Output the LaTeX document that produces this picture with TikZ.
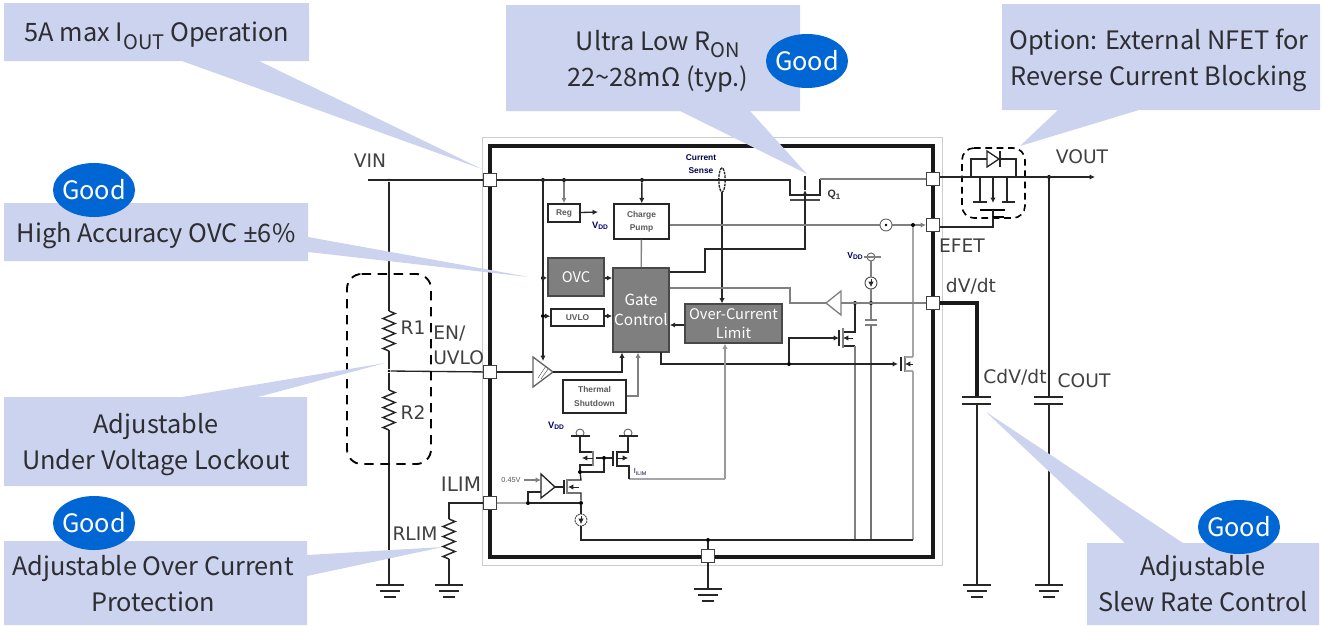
\documentclass[tikz,border=0pt]{standalone}
\usepackage{fontspec}
\setmainfont{Noto Sans CJK JP}
\newfontfamily\latinfont{Noto Sans}
\newfontfamily\schfont{DejaVu Sans}
\newfontfamily\tagfont{Liberation Sans}
\usetikzlibrary{arrows.meta,decorations.pathmorphing,shapes.geometric}
\definecolor{callblue}{RGB}{203,211,238}
\definecolor{goodblue}{RGB}{0,102,212}
\definecolor{blockgray}{RGB}{127,127,127}
\definecolor{blockedge}{RGB}{72,72,72}
\definecolor{calltext}{RGB}{45,45,50}
\tikzset{
  callfill/.style={fill=callblue,draw=none},
  calllabel/.style={inner sep=0pt,align=center,text=calltext,font=\fontsize{19}{27}\selectfont},
  goodoval/.style={ellipse,fill=goodblue,text=white,inner xsep=-3pt,inner ysep=0pt,minimum width=61.5pt,minimum height=40.5pt,font=\fontsize{19}{19}\selectfont},
  wire/.style={line width=1pt,color=black!85},
  railwire/.style={line width=1.4pt,color=black!85},
  graywire/.style={line width=1pt,color=black!50},
  palewire/.style={line width=1.1pt,color=black!35},
  tipwire/.style={-{Latex[length=4pt,width=4pt]}},
  pad/.style={draw=black!75,fill=white,line width=1pt,minimum size=9.5pt,inner sep=0pt},
  jdot/.style={circle,fill=black,inner sep=0pt,minimum size=3pt},
  whiteblock/.style={draw=black!85,fill=white,line width=1.3pt,inner sep=0pt,align=center,font=\tagfont\bfseries\fontsize{6.3}{10}\selectfont,text=black!65},
  grayblock/.style={draw=blockedge,fill=blockgray,line width=1.3pt,inner sep=0pt,align=center,text=white},
  schlabel/.style={inner sep=0pt,font=\schfont\fontsize{14}{17}\selectfont,text=black!75},
  smalltag/.style={inner sep=0pt,align=center,font=\tagfont\fontsize{5.5}{8}\selectfont,text=black!65},
  srcring/.style={circle,draw=black!70,fill=white,line width=0.7pt,minimum size=9pt,inner sep=0pt},
  railring/.style={circle,draw=black!60,line width=0.7pt,minimum size=6pt,inner sep=0pt},
  resistor/.style={line width=1.1pt,color=black!85,decorate,decoration={zigzag,segment length=7.5pt,amplitude=4.5pt}},
  dashbox/.style={dash pattern=on 7pt off 5pt,line width=1.4pt,rounded corners=11pt}
}
\begin{document}
\begin{tikzpicture}[x=0.75pt,y=0.75pt,yscale=-1]
\useasboundingbox (0,0) rectangle (1324,625);

%Shape: Rectangle frame
\draw [color=black!20,line width=0.5pt] (482,137) -- (942,137) -- (942,565) -- (482,565) -- cycle ;
%Shape: Rectangle thick
\draw [line width=2.8pt,color=black!90] (490,146) -- (933,146) -- (933,557) -- (490,557) -- cycle ;

% Pads
\draw (490,180) node [pad] (padvin) {};
\draw (933,179) node [pad] (padout) {};
\draw (933,225) node [pad] (padefet) {};
\draw (933,303) node [pad] (paddvdt) {};
\draw (490,372) node [pad] (paduvlo) {};
\draw (490,503) node [pad] (padilim) {};
\draw (708,556) node [pad] (padgnd) {};

% Blocks
\draw (564,213) node [whiteblock,minimum width=24pt,minimum height=13.5pt] (regblk) {Reg};
\draw (641.5,221.5) node [whiteblock,minimum width=41pt,minimum height=26pt] (pumpblk) {Charge\\Pump};
\draw (576,277) node [grayblock,minimum width=42pt,minimum height=29pt,font=\fontsize{11}{13}\selectfont] (ovcblk) {OVC};
\draw (577.5,317.5) node [whiteblock,minimum width=39.5pt,minimum height=12.5pt] (uvloblk) {UVLO};
\draw (641,310) node [grayblock,minimum width=42pt,minimum height=63pt,font=\fontsize{11.5}{15}\selectfont] (gateblk) {Gate\\Control};
\draw (733.5,323.5) node [grayblock,minimum width=73pt,minimum height=29pt,font=\fontsize{11}{14}\selectfont] (oclblk) {Over-Current\\Limit};
\draw (594.5,396.5) node [whiteblock,minimum width=47pt,minimum height=25pt] (thermblk) {Thermal\\Shutdown};

% Junctions
\draw (389,180) node [jdot,minimum size=2pt] (jvin) {};
\draw (389,371) node [jdot,minimum size=2pt] (jdiv) {};
\draw (543,180) node [jdot] (jreg) {};
\draw (564,180) node [jdot] (jregb) {};
\draw (642,180) node [jdot] (jpump) {};
\draw (543,278) node [jdot] (jovc) {};
\draw (543,316) node [jdot] (juvlo) {};
\draw (855,303) node [jdot] (jclamp) {};
\draw (871,303) node [jdot] (jcap) {};
\draw (789,364) node [jdot] (jgate) {};
\draw (708,540) node [jdot] (jgnd) {};
\draw (581,503) node [jdot] (jsense) {};
\draw (528,503) node [jdot] (jamp) {};
\draw (580,472) node [jdot] (jmirror) {};
\draw (604,458) node [jdot] (jmgate) {};
\draw (1049,177) node [jdot] (jout) {};

% Outside wiring
\draw [railwire] (368,180) -- (padvin) ;
\draw [railwire] (jvin) -- (389,311) ;
\draw [resistor] (389,311) -- (389,351) ;
\draw [railwire] (389,351) -- (jdiv) -- (389,390) ;
\draw [resistor] (389,390) -- (389,430) ;
\draw [railwire] (389,430) -- (389,585) ;
\draw [wire] (jdiv) -- (paduvlo) ;
\draw [railwire] (padilim) -- (449,503) -- (449,519) ;
\draw [resistor] (449,519) -- (449,559) ;
\draw [railwire] (449,559) -- (449,585) ;
\draw [railwire] (padgnd) -- (708,589) ;

%Shape: Grounds
\draw [railwire] (376,585) -- (404,585) (380,591) -- (400,591) (384,597) -- (396,597) ;
\draw [railwire] (435,585) -- (463,585) (439,591) -- (459,591) (443,597) -- (455,597) ;
\draw [railwire] (694,589) -- (722,589) (698,595) -- (718,595) (702,601) -- (714,601) ;
\draw [railwire] (963,585) -- (991,585) (967,591) -- (987,591) (971,597) -- (983,597) ;
\draw [railwire] (1035,585) -- (1063,585) (1039,591) -- (1059,591) (1043,597) -- (1055,597) ;

%Dashed boxes
\draw [dashbox] (347,274) -- (431,274) -- (431,464) -- (347,464) -- cycle ;
\draw [dashbox,rounded corners=9pt,dash pattern=on 5pt off 3.5pt,line width=1.2pt] (962,148) -- (1025,148) -- (1025,218) -- (962,218) -- cycle ;

% External FET
\draw [railwire,tipwire] (padout.east |- 0,177) -- (1095,177) ;
\draw [wire] (971,177) -- (971,159) -- (987,159) (999,159) -- (1016,159) -- (1016,177) ;
\draw [wire,fill=white] (987,151) -- (987,167) -- (999,159) -- cycle ;
\draw [wire] (1000,151) -- (1000,167) ;
\draw [wire] (980,177) -- (980,202) (973,202) -- (987,202) ;
\draw [wire] (1007,177) -- (1007,202) (1002,202) -- (1015,202) ;
\draw [wire,tipwire] (993,177) -- (993,203) ;
\draw [line width=1.4pt] (980,210) -- (1005,210) ;
\draw [wire] (993,210) -- (993,227) -- (padefet.east |- 0,227) ;
\draw [line width=1pt] (993,217) -- (1004,217) ;

% Output capacitors
\draw [railwire] (jout) -- (1049,397) ;
\draw [railwire] (1034,397) -- (1063,397) (1034,404) -- (1063,404) ;
\draw [railwire] (1049,404) -- (1049,585) ;
\draw [line width=2.5pt,color=black!90] (paddvdt) -- (977,303) -- (977,397) ;
\draw [railwire] (962,397) -- (991,397) (962,404) -- (991,404) ;
\draw [railwire] (977,404) -- (977,585) ;

% Input rail and Q1
\draw [wire] (padvin) -- (790,180) -- (790,195) -- (820,195) -- (820,179) ;
\draw [graywire] (820,179) -- (padout) ;
\draw [railwire,color=black!70] (790,200) -- (820,200) ;
\draw [wire,tipwire] (805,200) -- (805,190) ;
\draw [wire] (805,176) -- (805,190) ;
\draw [wire] (805,200) -- (805,249) -- (705,249) -- (705,272) -- (gateblk.east |- 705,272) ;
\draw [wire,dash pattern=on 2pt off 0.7pt] (722,180) ellipse (3.2 and 12) ;
\draw [wire,tipwire] (722,192) -- (722,303.5) ;
\draw [wire] (jreg) -- (543,278) ;
\draw [wire,tipwire] (jovc) -- (ovcblk) ;
\draw [wire] (jovc) -- (juvlo) ;
\draw [wire,tipwire] (juvlo) -- (uvloblk) ;
\draw [wire,tipwire] (juvlo) -- (543,361) ;
\draw [wire,tipwire,color=black!50] (jregb) -- (regblk) ;
\draw [wire,tipwire] (regblk) -- (598,212) ;
\draw [wire,tipwire,line width=1.1pt] (jpump) -- (pumpblk) ;
\draw [graywire] (pumpblk) -- (gateblk) ;
\draw [wire,tipwire] (ovcblk.east |- 0,278) -- (gateblk.west |- 0,278) ;
\draw [wire,tipwire] (uvloblk.east |- 0,316) -- (gateblk.west |- 0,316) ;
\draw [wire,tipwire] (oclblk.west |- 0,325) -- (gateblk.east |- 0,325) ;

% Charge pump to EFET
\draw [graywire,tipwire] (pumpblk.east |- 0,225) -- (padefet) ;
\draw (886,225) node [srcring,draw=black!60] (srcefet) {};
\draw (886,225) node [jdot,minimum size=2pt] (srcefetdot) {};
\draw (913,225) node [jdot] (jefet) {};
\draw [palewire] (jefet) -- (913,357) ;
\draw [palewire] (913,371) -- (913,540) ;

% Comparator on dV/dt
\draw [graywire] (gateblk.east |- 0,288) -- (790,288) -- (790,303) -- (826,303) ;
\draw [graywire,fill=white] (826,303) -- (841,291) -- (841,315) -- cycle ;
\draw [graywire] (841,303) -- (paddvdt) ;
\draw [wire] (jclamp) -- (855,332) -- (843,332) (843,346) -- (855,346) ;
\draw [graywire,line width=1.2pt] (843,328) -- (843,348) ;
\draw [wire] (839,330) -- (839,346) ;
\draw [graywire] (855,346) -- (855,540) ;
\draw [wire,tipwire] (jgate) -- (789,338) -- (839,338) ;
\draw [wire,tipwire,line width=0.6pt] (853,338) -- (843,338) ;

% VDD and soft start cap
\draw (855,256) node [smalltag,text=blue!40!black,font=\tagfont\bfseries\fontsize{6.5}{8}\selectfont] (vddclamp) {V\raisebox{-1pt}{\fontsize{5}{6}\selectfont DD}};
\draw (871,257) node [railring] (vddring) {};
\draw [wire,color=black!50] (864,257) -- (881,257) ;
\draw (871,283) node [srcring] (srccap) {};
\draw [wire,tipwire,line width=0.5pt] (871,279) -- (871,287) ;
\draw [graywire] (vddring) -- (srccap) ;
\draw [graywire] (srccap) -- (jcap) ;
\draw [graywire] (jcap) -- (871,320) ;
\draw [graywire] (865,320) -- (877,320) (865,325) -- (877,325) ;
\draw [line width=1.3pt,color=black!55] (871,325) -- (871,540) ;

% Gate drive line
\draw [wire] (661,352) -- (661,364) -- (jgate) ;
\draw [wire,tipwire] (jgate) -- (898,364) ;
\draw [graywire] (905,356) -- (905,372) ;
\draw [wire] (901,357) -- (901,371) ;
\draw [palewire] (905,357) -- (913,357) (905,371) -- (913,371) ;
\draw [wire,tipwire,line width=0.6pt] (913,364) -- (905,364) ;

% EN comparator
\draw [wire] (paduvlo) -- (533,372) ;
\draw [wire,color=black!60,fill=white] (533,357) -- (533,387) -- (553,372) -- cycle ;
\draw [line width=0.4pt,color=black!60] (538,378) -- (546,366) (541,379) -- (548,369) ;
\draw [wire,tipwire] (553,372) -- (622,372) -- (622,352.5) ;
\draw [graywire,tipwire] (thermblk.east |- 0,396) -- (638,396) -- (638,352.5) ;

% Over current sense
\draw [palewire] (725,479) -- (629,479) ;
\draw [palewire,tipwire,color=black!40] (725,479) -- (725,343.5) ;
\draw [wire] (629,479) -- (629,466) -- (617,466) (617,452) -- (628,452) -- (628,436) ;
\draw [wire] (617,451) -- (617,467) ;
\draw [wire] (613,451) -- (613,466) ;
\draw [wire,tipwire,line width=0.6pt] (617,458) -- (628,458) ;
\draw (628,433) node [railring] (vddright) {};
\draw [wire] (619,436) -- (638,436) ;
\draw (580,433) node [railring] (vddleft) {};
\draw [wire] (571,436) -- (590,436) ;
\draw [wire] (580,436) -- (580,452) -- (593,452) (593,465) -- (580,465) -- (jmirror) ;
\draw [graywire] (593,451) -- (593,466) ;
\draw [wire,tipwire,line width=0.6pt] (593,458) -- (582,458) ;
\draw [wire] (596,458) -- (jmgate) -- (613,458) ;
\draw [wire] (jmgate) -- (604,472) -- (jmirror) ;
\draw [wire] (jmirror) -- (581,480) -- (567,480) (567,493) -- (581,493) -- (jsense) ;
\draw [graywire] (567,479) -- (567,494) ;
\draw [wire] (564,480) -- (564,494) ;
\draw [wire,tipwire,line width=0.6pt] (579,487) -- (568,487) ;
\draw [wire,fill=white] (541,474) -- (541,498) -- (555,487) -- cycle ;
\draw [wire] (555,487) -- (564,487) ;
\draw [wire,tipwire,color=black!50] (524,480) -- (541,480) ;
\draw [palewire] (padilim) -- (jamp) ;
\draw [wire] (jamp) -- (jsense) ;
\draw [wire] (jamp) -- (528,492) -- (541,492) ;
\draw (581,520) node [srcring,dash pattern=on 1.5pt off 0.5pt] (srcilim) {};
\draw [wire,tipwire,line width=0.5pt] (581,516) -- (581,524) ;
\draw [wire] (jsense) -- (srcilim) ;
\draw [wire] (srcilim) -- (581,540) -- (jgnd) ;
\draw [wire] (jgnd) -- (padgnd) ;
\draw [wire] (jgnd) -- (913,540) ;

% Text Node
\draw (370,161) node [schlabel] (vinlabel) {VIN};
\draw (433,345.5) node [schlabel,anchor=west,align=left,font=\schfont\fontsize{14}{18.5}\selectfont] (uvlolabel) {EN/\\UVLO};
\draw (413,328) node [schlabel] (rlabela) {R1};
\draw (413,413) node [schlabel] (rlabelb) {R2};
\draw (461,484) node [schlabel,font=\schfont\fontsize{15}{17}\selectfont] (ilimlabel) {ILIM};
\draw (415,534) node [schlabel] (rlimlabel) {RLIM};
\draw (962,246) node [schlabel] (efetlabel) {EFET};
\draw (971,286) node [schlabel] (dvdtlabel) {dV/dt};
\draw (1082,157) node [schlabel] (voutlabel) {VOUT};
\draw (1015,377) node [schlabel] (cdvlabel) {CdV/dt};
\draw (1084,381) node [schlabel] (coutlabel) {COUT};
\draw (834,195) node [smalltag,font=\tagfont\bfseries\fontsize{8}{8}\selectfont,text=black!80] (qlabel) {Q\raisebox{-1pt}{\fontsize{6}{6}\selectfont 1}};
\draw (701,164) node [smalltag,text=blue!30!black,font=\tagfont\bfseries\fontsize{6.3}{9.5}\selectfont] (senselabel) {Current\\Sense};
\draw (600,226) node [smalltag,text=blue!40!black,font=\tagfont\bfseries\fontsize{7}{8}\selectfont] (vddreg) {V\raisebox{-1pt}{\fontsize{5}{6}\selectfont DD}};
\draw (556,426) node [smalltag,text=blue!40!black,font=\tagfont\bfseries\fontsize{7}{8}\selectfont] (vddmirror) {V\raisebox{-1pt}{\fontsize{5}{6}\selectfont DD}};
\draw (511,480) node [smalltag] (refvolt) {0.45V};
\draw (640,472) node [smalltag,text=blue!30!black] (ilimtag) {I\raisebox{-1pt}{\fontsize{4}{5}\selectfont ILIM}};

%Shape: Callouts
\fill [callfill] (4,3) -- (309,3) -- (309,61) -- (259,61) -- (482,169) -- (182,61) -- (4,61) -- cycle ;
\fill [callfill] (506,5) -- (800,5) -- (800,111) -- (750,111) -- (807,174) -- (680,111) -- (506,111) -- cycle ;
\fill [callfill] (1002,4) -- (1320,4) -- (1320,110) -- (1139,110) -- (1020,146) -- (1058,110) -- (1002,110) -- cycle ;
\fill [callfill] (4,203) -- (308,203) -- (308,237) -- (529,277) -- (308,252) -- (308,261) -- (4,261) -- cycle ;
\fill [callfill] (4,397) -- (182,397) -- (385,363) -- (258,397) -- (307,397) -- (307,486) -- (4,486) -- cycle ;
\fill [callfill] (4,541) -- (307,541) -- (307,555) -- (443,547) -- (307,576) -- (307,625) -- (4,625) -- cycle ;
\fill [callfill] (1087,543) -- (1125,543) -- (986,412) -- (1183,543) -- (1319,543) -- (1319,625) -- (1087,625) -- cycle ;

%Shape: Ellipse
\draw (807,61) node [goodoval] (goodron) {Good};
\draw (94,190) node [goodoval] (goodovc) {Good};
\draw (94,523) node [goodoval] (goodlim) {Good};
\draw (1239,527) node [goodoval] (goodslew) {Good};

% Text Node
\draw (157,36) node [calllabel] (iouttext) {5A max I\raisebox{-0.3em}{\fontsize{15}{15}\selectfont OUT} Operation};
\draw (658,61) node [calllabel] (rontext) {Ultra Low R\raisebox{-0.3em}{\fontsize{15}{15}\selectfont ON}\\22\textasciitilde 28m\symbol{"03A9} (typ.)};
\draw (1159,60.5) node [calllabel] (nfettext) {Option: External NFET for\\Reverse Current Blocking};
\draw (156,236) node [calllabel] (ovctext) {High Accuracy OVC {\latinfont ±}6\%};
\draw (156,445) node [calllabel] (uvtext) {Adjustable\\Under Voltage Lockout};
\draw (153,584) node [calllabel] (limtext) {Adjustable Over Current\\Protection};
\draw (1203,584) node [calllabel] (slewtext) {Adjustable\\Slew Rate Control};

\end{tikzpicture}
\end{document}
